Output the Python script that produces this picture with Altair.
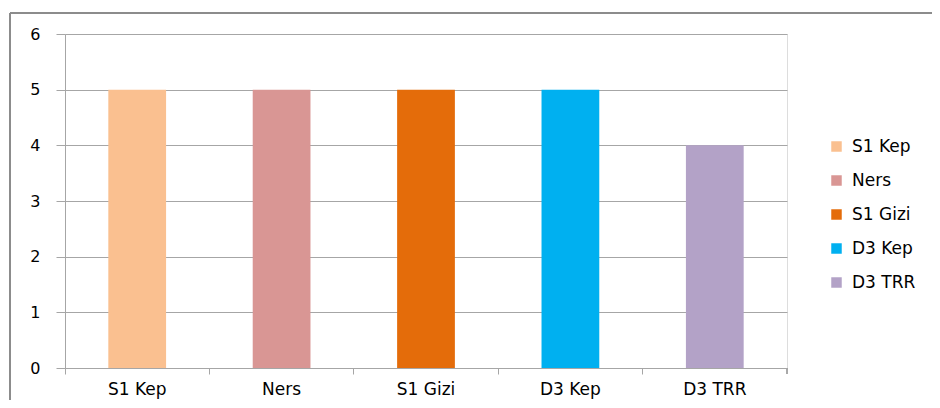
import altair as alt
import pandas as pd

categories = ["S1 Kep", "Ners", "S1 Gizi", "D3 Kep", "D3 TRR"]
values = [5, 5, 5, 5, 4]
colors = ["#FAC090", "#D99694", "#E46C0A", "#00B0F0", "#B3A2C7"]
y_ticks = [0, 1, 2, 3, 4, 5, 6]

df = pd.DataFrame({"cat": categories, "val": values})

FONT = "DejaVu Sans"
GRID = "#A6A6A6"

bars = alt.Chart(df).mark_bar(width=alt.RelativeBandSize(0.4)).encode(
    x=alt.X("cat:N", sort=categories, title=None,
            scale=alt.Scale(paddingInner=0, paddingOuter=0),
            axis=alt.Axis(bandPosition=0, labelAngle=0, labelFontSize=17, labelFont=FONT,
                          labelColor="#000000", tickSize=6, tickColor=GRID, domainColor=GRID,
                          labelPadding=7, grid=False)),
    y=alt.Y("val:Q", title=None,
            scale=alt.Scale(domain=[0, 6], nice=False),
            axis=alt.Axis(values=y_ticks, labelFontSize=16, labelFont=FONT, labelColor="#000000",
                          tickSize=9, tickColor=GRID, domainColor=GRID, gridColor=GRID,
                          labelPadding=16)),
    color=alt.Color("cat:N", sort=categories, title=None,
                    scale=alt.Scale(domain=categories, range=colors),
                    legend=alt.Legend(orient="none", legendX=763, legendY=104,
                                      symbolType="square", symbolSize=110, symbolStrokeWidth=0,
                                      labelFontSize=17, labelFont=FONT, labelColor="#000000",
                                      labelOffset=7, rowPadding=16)),
)

end_tick = alt.Chart(df).mark_rule(color=GRID, strokeWidth=1).encode(
    x=alt.value(722), y=alt.value(334), y2=alt.value(340)
)
border_top = alt.Chart(df).mark_rule(color="#8C8C8C", strokeWidth=2).encode(
    x=alt.value(-55), x2=alt.value(1000), y=alt.value(-21)
)
border_left = alt.Chart(df).mark_rule(color="#8C8C8C", strokeWidth=2).encode(
    x=alt.value(-55), y=alt.value(-21), y2=alt.value(1000)
)

chart = alt.layer(bars, end_tick, border_top, border_left).properties(
    width=722, height=334,
    autosize=alt.AutoSizeParams(type="none"),
    padding={"left": 57, "top": 26, "right": 145, "bottom": 32},
).configure_view(stroke=None).configure(background="white")

chart.save("out.html", embed_options={"renderer": "svg", "actions": False})
